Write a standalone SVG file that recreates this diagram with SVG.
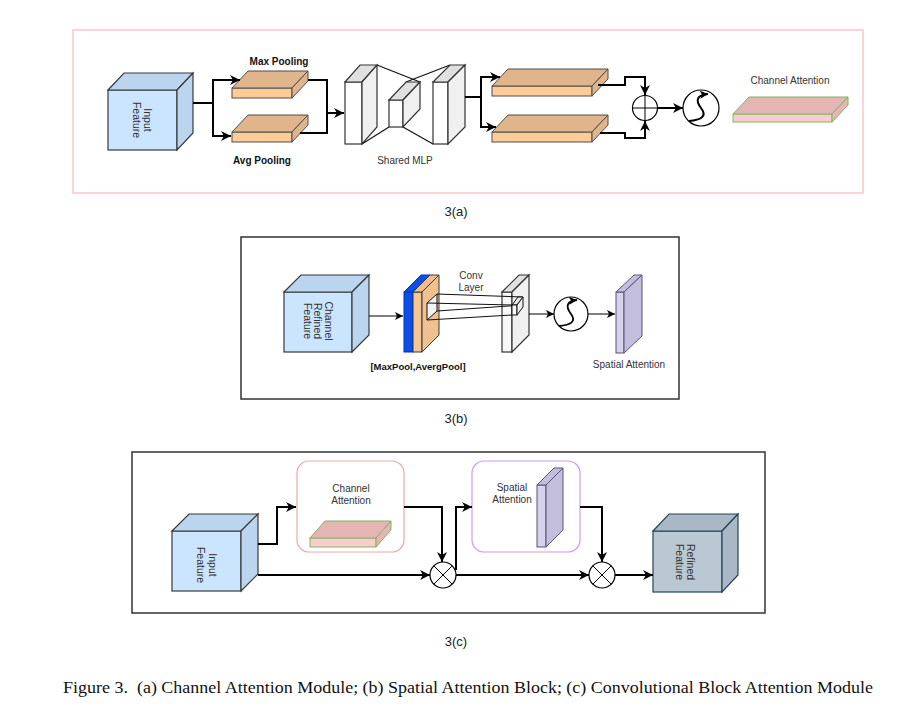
<svg xmlns="http://www.w3.org/2000/svg" width="905" height="720" viewBox="0 0 905 720">
<style>
text{font-family:"Liberation Sans",Arial,Helvetica,sans-serif;font-size:10px;fill:#333}
.b{font-weight:bold;fill:#111}
.fig{font-size:13px;fill:#222}
.cap{font-family:"Liberation Serif","Times New Roman",serif;font-size:17.5px;fill:#111}
.vt{font-size:10.5px}
.c2{fill:none;stroke:#000;stroke-width:2}
.c1{fill:none;stroke:#000;stroke-width:1}
.blue{stroke:#36393d;stroke-width:1.2}
.blue .f{fill:#cce5ff}.blue .d{fill:#bcd5ee}
.grey{stroke:#23445d;stroke-width:1.2}
.grey .f{fill:#bac8d3}.grey .d{fill:#a9b8c4}
.peach{stroke:#4d4d4d;stroke-width:1}
.peach .f{fill:#ffcc99}.peach .d{fill:#e1b58b}
.pink{stroke:#82b366;stroke-width:1}
.pink .f{fill:#f8cecc}.pink .d{fill:#e5b5b4}
.lav{stroke:#56517e;stroke-width:1}
.lav .f{fill:#d5d2ea}.lav .d{fill:#c3bedc}
.wb{stroke:#333;stroke-width:1.2}
.wb .f{fill:#fff}.wb .s{fill:#f0f0f0}.wb .t{fill:#e0e0e0}
.circ{fill:#fff;stroke:#000;stroke-width:1.2}
.panel{fill:none;stroke-width:1.5}
</style>
<defs>
<marker id="ah" markerUnits="userSpaceOnUse" markerWidth="12" markerHeight="10" refX="10" refY="5" orient="auto">
<path d="M0,0 L10,5 L0,10 L3,5 z" fill="#000"/>
</marker>
<marker id="as" markerUnits="userSpaceOnUse" markerWidth="9" markerHeight="8" refX="8" refY="4" orient="auto">
<path d="M0,0 L8,4 L0,8 L2,4 z" fill="#000"/>
</marker>
<marker id="sg" markerUnits="userSpaceOnUse" markerWidth="10" markerHeight="8" refX="8" refY="4" orient="auto">
<path d="M0,0 L8,4 L0,8 L2,4 z" fill="#000"/>
</marker>
</defs>

<!-- panel frames -->
<rect class="panel" x="73" y="30" width="790" height="163" stroke="#f8c8c8"/>
<rect class="panel" x="241" y="237" width="438" height="162" stroke="#333"/>
<rect class="panel" x="132" y="452" width="633" height="161" stroke="#333"/>

<!-- ===== Panel (a) ===== -->
<g id="a-input" class="blue">
<rect class="f" x="108" y="90" width="69" height="60"/>
<polygon class="d" points="108,90 124,73 193,73 177,90"/>
<polygon class="d" points="177,90 193,73 193,133 177,150"/>
<text class="vt" transform="translate(142,120) rotate(90)" text-anchor="middle" stroke="none"><tspan x="0" y="-1.5">Input</tspan><tspan x="0" y="9.5">Feature</tspan></text>
</g>
<g id="a-maxpool" class="peach">
<rect class="f" x="232" y="88" width="60" height="10"/>
<polygon class="d" points="232,88 248,71 308,71 292,88"/>
<polygon class="d" points="292,88 308,71 308,81 292,98"/>
<text class="b" x="279" y="65" text-anchor="middle" stroke="none">Max Pooling</text>
</g>
<g id="a-avgpool" class="peach">
<rect class="f" x="232" y="132" width="60" height="10"/>
<polygon class="d" points="232,132 248,115 308,115 292,132"/>
<polygon class="d" points="292,132 308,115 308,125 292,142"/>
<text class="b" x="262" y="164" text-anchor="middle" stroke="none">Avg Pooling</text>
</g>
<g id="a-mlp" class="wb">
<line x1="377" y1="65" x2="420" y2="82" stroke="#111"/>
<line x1="450" y1="65" x2="406" y2="82" stroke="#111"/>
<line x1="362" y1="144" x2="389" y2="127" stroke="#111"/>
<line x1="403" y1="127" x2="433" y2="144" stroke="#111"/>
<rect class="f" x="345" y="82" width="17" height="62"/>
<polygon class="t" points="345,82 360,65 377,65 362,82"/>
<polygon class="s" points="362,82 377,65 377,127 362,144"/>
<rect class="f" x="389" y="100" width="14" height="27"/>
<polygon class="t" points="389,100 406,82 420,82 403,100"/>
<polygon class="s" points="403,100 420,82 420,109 403,127"/>
<rect class="f" x="433" y="82" width="15" height="62"/>
<polygon class="t" points="433,82 450,65 465,65 448,82"/>
<polygon class="s" points="448,82 465,65 465,127 448,144"/>
<text x="405" y="164" text-anchor="middle" stroke="none">Shared MLP</text>
</g>
<g id="a-out1" class="peach">
<rect class="f" x="492" y="86" width="100" height="10"/>
<polygon class="d" points="492,86 508,69 608,69 592,86"/>
<polygon class="d" points="592,86 608,69 608,79 592,96"/>
</g>
<g id="a-out2" class="peach">
<rect class="f" x="492" y="132" width="100" height="10"/>
<polygon class="d" points="492,132 508,115 608,115 592,132"/>
<polygon class="d" points="592,132 608,115 608,125 592,142"/>
</g>
<g id="a-plus">
<circle class="circ" cx="645" cy="108" r="12.5"/>
<path d="M632.5,108 H657.5 M645,95.5 V120.5" stroke="#000" stroke-width="1"/>
</g>
<g id="a-sigmoid">
<circle class="circ" cx="701" cy="108" r="18"/>
<path d="M689,121 C700,120 708,117 701,108 C695,100 697,95 708,94" fill="none" stroke="#000" stroke-width="2" marker-end="url(#sg)"/>
</g>
<g id="a-channel-att" class="pink">
<rect class="f" x="733" y="114" width="99" height="8"/>
<polygon class="d" points="733,114 749,97 848,97 832,114"/>
<polygon class="d" points="832,114 848,97 848,105 832,122"/>
<text x="790" y="84" text-anchor="middle" stroke="none">Channel Attention</text>
</g>

<!-- ===== Panel (b) ===== -->
<g id="b-input" class="blue">
<rect class="f" x="284" y="292" width="68" height="60"/>
<polygon class="d" points="284,292 301,275 369,275 352,292"/>
<polygon class="d" points="352,292 369,275 369,335 352,352"/>
<text class="vt" transform="translate(318,321) rotate(90)" text-anchor="middle" stroke="none"><tspan x="0" y="-6.5">Channel</tspan><tspan x="0" y="4">Refined</tspan><tspan x="0" y="14.5">Feature</tspan></text>
</g>
<g id="b-pool">
<rect x="404" y="292" width="9" height="60" fill="#0a50e8" stroke="#0033bb" stroke-width="1"/>
<polygon points="404,292 421,275 430,275 413,292" fill="#0a50e8" stroke="#0033bb" stroke-width="1"/>
<rect x="413" y="292" width="9" height="60" fill="#f5c595" stroke="#36393d" stroke-width="1"/>
<polygon points="413,292 430,275 439,275 422,292" fill="#efbd8b" stroke="#36393d" stroke-width="1"/>
<polygon points="422,292 439,275 439,335 422,352" fill="#f0c08e" stroke="#36393d" stroke-width="1"/>
<text class="b" x="418" y="370" text-anchor="middle" style="font-size:9.5px">[MaxPool,AvergPool]</text>
</g>
<g id="b-conv" class="wb">
<rect class="f" x="502" y="292" width="10" height="60" style="fill:#f7f7f7"/>
<polygon class="t" points="502,292 519,275 529,275 512,292"/>
<polygon class="s" points="512,292 529,275 529,335 512,352"/>
<text x="471" y="279" text-anchor="middle" stroke="none">Conv</text>
<text x="471" y="291" text-anchor="middle" stroke="none">Layer</text>
</g>
<g id="b-kernel" stroke="#111" stroke-width="1" fill="none">
<polygon points="427,303 437,294 437,311 427,320" fill="#f2f2f2"/>
<path d="M437,294 L523,297 M427,303 L512,305 M437,311 L523,305 M427,320 L512,315"/>
<polygon points="512,305 518,297 523,297 517,305" fill="#e8e8e8"/>
<rect x="512" y="305" width="5" height="10" fill="#fafafa"/>
<polygon points="517,305 523,297 523,307 517,315" fill="#efefef"/>
</g>
<g id="b-sigmoid">
<circle class="circ" cx="571" cy="314" r="17"/>
<path d="M559,326 C570,325 577,322 571,314 C565,306 567,301 577,300" fill="none" stroke="#000" stroke-width="1.8" marker-end="url(#sg)"/>
</g>
<g id="b-spatial" class="lav">
<rect class="f" x="616" y="292" width="8" height="61"/>
<polygon class="d" points="616,292 634,275 642,275 624,292"/>
<polygon class="d" points="624,292 642,275 642,336 624,353"/>
<text x="629" y="368" text-anchor="middle" stroke="none">Spatial Attention</text>
</g>

<!-- ===== Panel (c) ===== -->
<g id="c-input" class="blue">
<rect class="f" x="172" y="531" width="69" height="60"/>
<polygon class="d" points="172,531 189,514 258,514 241,531"/>
<polygon class="d" points="241,531 258,514 258,574 241,591"/>
<text class="vt" transform="translate(206,565) rotate(90)" text-anchor="middle" stroke="none"><tspan x="0" y="-2.5">Input</tspan><tspan x="0" y="9.5">Feature</tspan></text>
</g>
<g id="c-channel">
<rect x="297" y="461" width="107" height="91" rx="12" fill="#fff" stroke="#f4a6a3" stroke-width="1.2"/>
<text x="351" y="492" text-anchor="middle">Channel</text>
<text x="351" y="504" text-anchor="middle">Attention</text>
<g class="pink">
<rect class="f" x="310" y="538" width="66" height="9"/>
<polygon class="d" points="310,538 325,521 391,521 376,538"/>
<polygon class="d" points="376,538 391,521 391,530 376,547"/>
</g>
</g>
<g id="c-spatial">
<rect x="472" y="461" width="108" height="91" rx="12" fill="#fff" stroke="#cc99ff" stroke-width="1.2"/>
<text x="512" y="491" text-anchor="middle">Spatial</text>
<text x="512" y="503" text-anchor="middle">Attention</text>
<g class="lav">
<rect class="f" x="537" y="485" width="9" height="62"/>
<polygon class="d" points="537,485 554,468 563,468 546,485"/>
<polygon class="d" points="546,485 563,468 563,530 546,547"/>
</g>
</g>
<g id="c-mult1">
<circle class="circ" cx="443" cy="575" r="13"/>
<path d="M433.8,565.8 L452.2,584.2 M452.2,565.8 L433.8,584.2" stroke="#000" stroke-width="1"/>
</g>
<g id="c-mult2">
<circle class="circ" cx="602" cy="575" r="13"/>
<path d="M592.8,565.8 L611.2,584.2 M611.2,565.8 L592.8,584.2" stroke="#000" stroke-width="1"/>
</g>
<g id="c-refined" class="grey">
<rect class="f" x="653" y="531" width="69" height="61"/>
<polygon class="d" points="653,531 669,514 738,514 722,531"/>
<polygon class="d" points="722,531 738,514 738,575 722,592"/>
<text class="vt" transform="translate(686,562) rotate(90)" text-anchor="middle" stroke="none"><tspan x="0" y="-1">Refined</tspan><tspan x="0" y="10">Feature</tspan></text>
</g>

<!-- connectors -->
<g id="connectors">
<path class="c2" d="M193,103 H213 V80 H240" marker-end="url(#ah)"/>
<path class="c2" d="M213,103 V136 H231" marker-end="url(#ah)"/>
<path class="c2" d="M308,80 H327 V113 H344" marker-end="url(#ah)"/>
<path class="c2" d="M300,133 H327 V113"/>
<path class="c2" d="M465,97 H481 V77 H500" marker-end="url(#ah)"/>
<path class="c2" d="M481,97 V127 H496" marker-end="url(#ah)"/>
<path class="c2" d="M598,85 H625 V77 H645 V95" marker-end="url(#ah)"/>
<path class="c2" d="M600,133 H625 V138 H645 V121" marker-end="url(#ah)"/>
<path class="c2" d="M658,108 H683" marker-end="url(#ah)"/>
<path class="c1" d="M369,316 H403" marker-end="url(#as)"/>
<path class="c1" d="M529,314 H554" marker-end="url(#as)"/>
<path class="c1" d="M588,314 H615" marker-end="url(#as)"/>
<path class="c2" d="M258,544 H277 V507 H296" marker-end="url(#ah)"/>
<path class="c2" d="M258,575 H430" marker-end="url(#ah)"/>
<path class="c2" d="M404,507 H442 V562" marker-end="url(#ah)"/>
<path class="c2" d="M456,570 V507 H472" marker-end="url(#ah)"/>
<path class="c2" d="M580,507 H602 V562" marker-end="url(#ah)"/>
<path class="c2" d="M456,575 H589" marker-end="url(#ah)"/>
<path class="c2" d="M615,575 H653" marker-end="url(#ah)"/>
</g>

<!-- captions -->
<text class="fig" x="456" y="216" text-anchor="middle">3(a)</text>
<text class="fig" x="456" y="423" text-anchor="middle">3(b)</text>
<text class="fig" x="456" y="646" text-anchor="middle">3(c)</text>
<text class="cap" x="63" y="693" textLength="810" lengthAdjust="spacingAndGlyphs">Figure 3.&#160; (a) Channel Attention Module; (b) Spatial Attention Block; (c) Convolutional Block Attention Module</text>
</svg>
